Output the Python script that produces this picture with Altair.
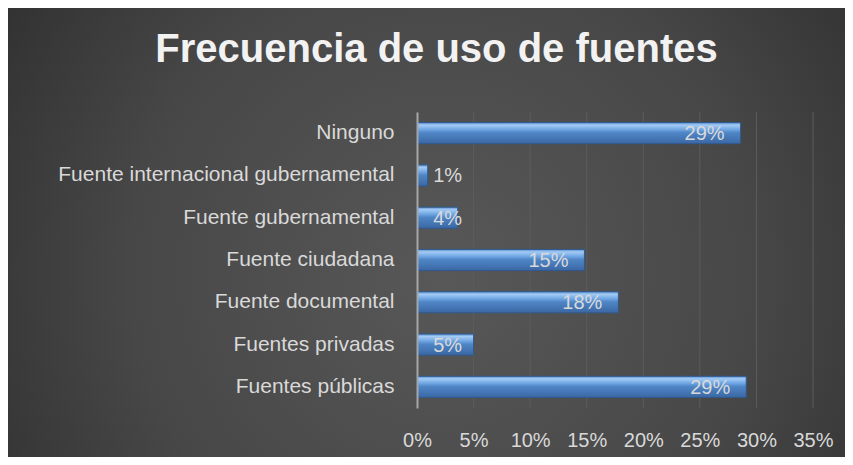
import altair as alt
import pandas as pd

title_text = "Frecuencia de uso de fuentes"
categories = [
    "Ninguno",
    "Fuente internacional gubernamental",
    "Fuente gubernamental",
    "Fuente ciudadana",
    "Fuente documental",
    "Fuentes privadas",
    "Fuentes públicas",
]
values = [0.286, 0.0095, 0.036, 0.148, 0.178, 0.050, 0.291]
tick_values = [0, 0.05, 0.10, 0.15, 0.20, 0.25, 0.30, 0.35]

df = pd.DataFrame({"fuente": categories, "valor": values})
grid_df = pd.DataFrame({"valor": tick_values[1:]})

FONT = "Liberation Sans"
W, H = 396, 296
PAD = {"left": 409, "top": 104, "right": 32, "bottom": 49}

bg_grad = {
    "gradient": "radial",
    "x1": 0.52, "y1": 0.55, "r1": 0,
    "x2": 0.52, "y2": 0.55, "r2": 0.75,
    "stops": [
        {"offset": 0, "color": "#585858"},
        {"offset": 0.5, "color": "#474747"},
        {"offset": 1, "color": "#262626"},
    ],
}
bar_grad = {
    "gradient": "linear",
    "x1": 0, "y1": 0, "x2": 0, "y2": 1,
    "stops": [
        {"offset": 0, "color": "#5d90cf"},
        {"offset": 0.12, "color": "#a3cbf5"},
        {"offset": 0.32, "color": "#72a8e4"},
        {"offset": 0.48, "color": "#4f86c6"},
        {"offset": 1, "color": "#3b67a4"},
    ],
}

xscale = alt.Scale(domain=[0, 0.35], nice=False)
x_axis = alt.Axis(
    values=tick_values, format=".0%", grid=False, domain=False,
    ticks=False, labelPadding=22, labelFontSize=20,
    labelColor="#d9d9d9", labelFont=FONT, title=None, zindex=1,
    labelFlush=False, labelOverlap=False, labelBound=False,
    labelAlign="center",
)

bg = alt.Chart(pd.DataFrame({"k": [0]})).mark_rect(fill=bg_grad).encode(
    x=alt.value(-PAD["left"]),
    x2=alt.value(W + PAD["right"]),
    y=alt.value(-PAD["top"]),
    y2=alt.value(H + PAD["bottom"]),
)

title = alt.Chart(pd.DataFrame({"t": [title_text]})).mark_text(
    font=FONT, fontSize=40, fontWeight="bold", color="#f2f2f2",
    align="center", baseline="alphabetic",
).encode(x=alt.value(19.5), y=alt.value(-50), text="t:N")

grid = alt.Chart(grid_df).mark_rule(color="#5c5c5c", strokeWidth=1).encode(
    x=alt.X("valor:Q", scale=xscale, axis=x_axis)
)

y_enc = alt.Y(
    "fuente:N",
    sort=categories,
    scale=alt.Scale(paddingInner=0.5, paddingOuter=0.25),
    axis=alt.Axis(
        domain=True, domainColor="#a6a6a6", domainWidth=2, ticks=False,
        labelPadding=23, labelFontSize=21, labelColor="#d9d9d9",
        labelFont=FONT, labelLimit=400, title=None, zindex=1,
    ),
)

bars = alt.Chart(df).mark_bar(fill=bar_grad, stroke="#2f5a90", strokeWidth=1).encode(
    x=alt.X("valor:Q", scale=xscale, axis=x_axis), y=y_enc
)

labels = alt.Chart(df).transform_calculate(
    lx="max(datum.valor, 0.054)"
).mark_text(
    align="right", baseline="middle", dx=-16, dy=1, fontSize=20,
    font=FONT, color="#d9d9d9",
).encode(
    x=alt.X("lx:Q", scale=xscale, axis=x_axis),
    y=alt.Y("fuente:N", sort=categories),
    text=alt.Text("valor:Q", format=".0%"),
)

chart = alt.layer(bg, grid, bars, labels, title).properties(
    width=W,
    height=H,
    padding=PAD,
    autosize=alt.AutoSizeParams(type="none"),
    background="#333333",
).configure_view(stroke=None)

chart.save("out.html", embed_options={"renderer": "svg", "actions": False})
